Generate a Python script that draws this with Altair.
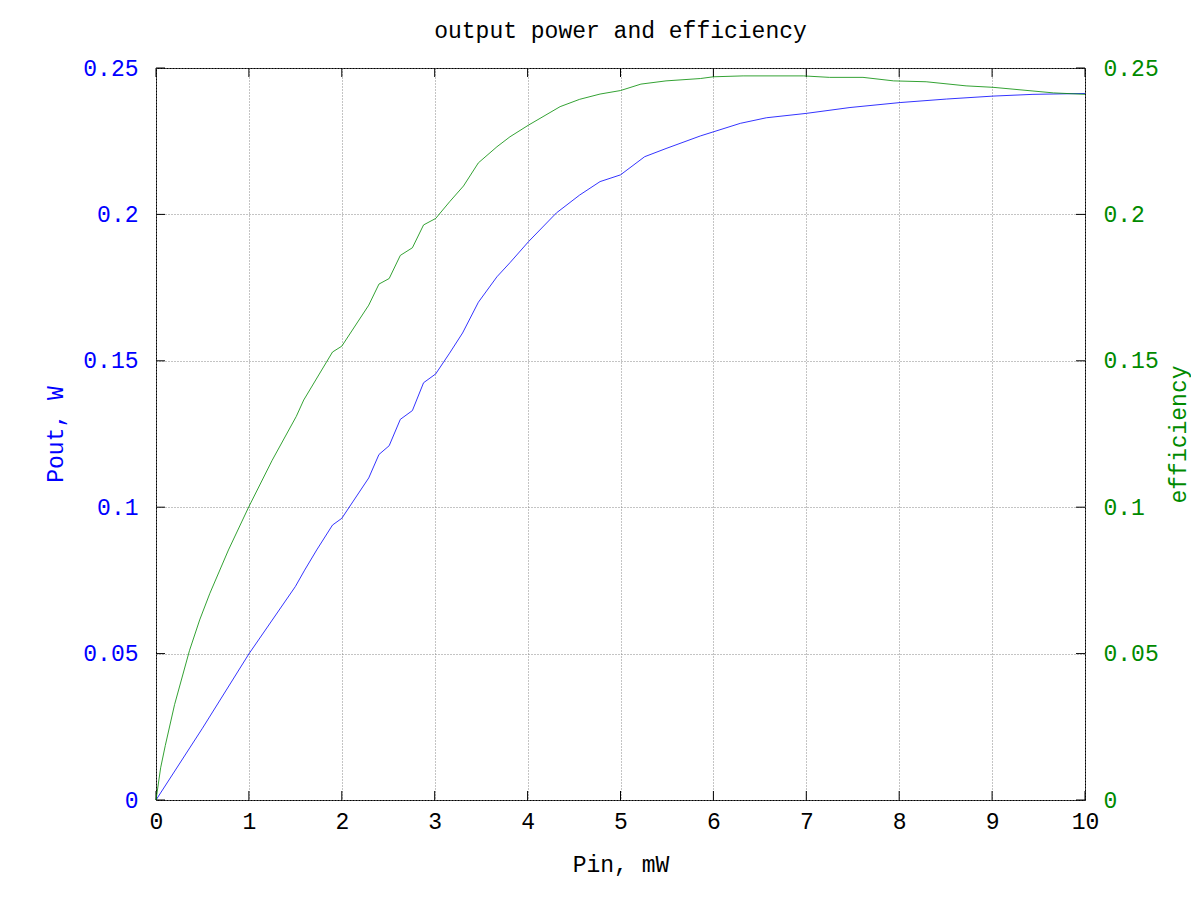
import altair as alt
import pandas as pd

# Pout curve (blue), Pin in mW, Pout in W
pin_pout = [0, 0.5, 1.0, 1.5, 1.6, 1.73, 1.9, 2.0, 2.29, 2.4, 2.51, 2.63, 2.76, 2.88, 3.01,
            3.16, 3.3, 3.47, 3.67, 3.81, 4.01, 4.31, 4.56, 4.78, 5.0, 5.26, 5.49, 5.86,
            6.0, 6.29, 6.57, 7.0, 7.47, 8.01, 8.51, 9.01, 9.44, 10]
pout = [0, 0.0245, 0.0499, 0.0729, 0.0785, 0.0854, 0.0939, 0.0962, 0.110, 0.118, 0.121,
        0.130, 0.133, 0.1425, 0.1455, 0.1526, 0.1595, 0.170, 0.1787, 0.1835, 0.1907,
        0.2005, 0.2066, 0.2112, 0.2135, 0.2197, 0.2225, 0.2268, 0.2282, 0.2311, 0.233,
        0.2345, 0.2365, 0.2382, 0.2394, 0.2404, 0.241, 0.2413]

# efficiency curve (green)
pin_eff = [0, 0.05, 0.1, 0.2, 0.36, 0.47, 0.58, 0.78, 1.0, 1.25, 1.51, 1.59, 1.9, 2.0,
           2.29, 2.4, 2.51, 2.63, 2.76, 2.88, 3.01, 3.16, 3.31, 3.47, 3.67, 3.81, 4.01,
           4.35, 4.56, 4.78, 5.0, 5.22, 5.49, 5.86, 6.0, 6.32, 6.97, 7.25, 7.61, 7.94,
           8.29, 8.72, 9.01, 9.66, 10]
eff = [0, 0.011, 0.0186, 0.0326, 0.051, 0.0615, 0.0706, 0.0854, 0.1002, 0.116, 0.131,
       0.1366, 0.153, 0.155, 0.169, 0.1762, 0.1781, 0.186, 0.1886, 0.1964, 0.1986, 0.2043,
       0.2097, 0.2176, 0.2231, 0.2265, 0.2305, 0.2368, 0.2393, 0.2411, 0.2423, 0.2445,
       0.2456, 0.2464, 0.247, 0.2473, 0.2473, 0.2468, 0.2468, 0.2456, 0.2453, 0.2439,
       0.2434, 0.2415, 0.241]

x_ticks = [0, 1, 2, 3, 4, 5, 6, 7, 8, 9, 10]
y_ticks = [0, 0.05, 0.1, 0.15, 0.2, 0.25]

FONT = "Courier New, Liberation Mono, monospace"
FS = 23
W, H = 929, 732
BLUE = "#0000ff"
GREEN = "#008a00"

df_p = pd.DataFrame({"pin": pin_pout, "pout": pout})
df_e = pd.DataFrame({"pin": pin_eff, "eff": eff})
df_xt = pd.DataFrame({"t": x_ticks})
df_yt = pd.DataFrame({"t": y_ticks})

xscale = alt.Scale(domain=[0, 10], nice=False)
yscale = alt.Scale(domain=[0, 0.25], nice=False)

xaxis = alt.Axis(values=x_ticks, format="d", title="Pin, mW", grid=True, gridDash=[1, 2],
                 gridColor="#888888", gridOpacity=1, ticks=False, domain=False,
                 labelPadding=10, labelColor="black", titleY=64, titleBaseline="middle",
                 labelFlush=False)

blue_line = alt.Chart(df_p).mark_line(color=BLUE, strokeWidth=0.8).encode(
    x=alt.X("pin:Q", scale=xscale, axis=xaxis),
    y=alt.Y("pout:Q", scale=yscale,
            axis=alt.Axis(values=y_ticks, format=".2~f", title="Pout, W", grid=True,
                          gridDash=[1, 2], gridColor="#888888", gridOpacity=1,
                          ticks=False, domain=False, labelPadding=18,
                          labelColor=BLUE, titleColor=BLUE, titleX=-101,
                          titleBaseline="middle", labelFlush=False)),
)

tick_x_bottom = alt.Chart(df_xt).mark_rule(color="black", strokeWidth=1).encode(
    x=alt.X("t:Q", scale=xscale), y=alt.value(H), y2=alt.value(H - 9))
tick_x_top = alt.Chart(df_xt).mark_rule(color="black", strokeWidth=1).encode(
    x=alt.X("t:Q", scale=xscale), y=alt.value(0), y2=alt.value(9))
tick_y_left = alt.Chart(df_yt).mark_rule(color="black", strokeWidth=1).encode(
    y=alt.Y("t:Q", scale=yscale), x=alt.value(0), x2=alt.value(9))
tick_y_right = alt.Chart(df_yt).mark_rule(color="black", strokeWidth=1).encode(
    y=alt.Y("t:Q", scale=yscale), x=alt.value(W - 9), x2=alt.value(W))

left = alt.layer(blue_line, tick_x_bottom, tick_x_top, tick_y_left, tick_y_right)

green_line = alt.Chart(df_e).mark_line(color=GREEN, strokeWidth=0.8).encode(
    x=alt.X("pin:Q", scale=xscale),
    y=alt.Y("eff:Q", scale=yscale,
            axis=alt.Axis(values=y_ticks, format=".2~f", title="efficiency", orient="right",
                          grid=False, ticks=False, domain=False, labelPadding=18,
                          labelColor=GREEN, titleColor=GREEN, titleX=93, titleAngle=-90,
                          titleBaseline="middle", labelFlush=False)),
)

chart = alt.layer(left, green_line).resolve_scale(y="independent").properties(
    width=W, height=H,
    title=alt.TitleParams("output power and efficiency", font=FONT, fontSize=FS,
                          fontWeight="normal", color="black", anchor="middle", offset=14),
    autosize=alt.AutoSizeParams(type="none"),
    padding={"left": 148, "top": 60, "right": 106, "bottom": 84},
    background="white",
).configure_view(stroke="black", strokeWidth=1).configure_axis(
    labelFont=FONT, labelFontSize=FS, titleFont=FONT, titleFontSize=FS,
    titleFontWeight="normal"
)

chart.save("out.html", embed_options={"renderer": "svg", "actions": False})
